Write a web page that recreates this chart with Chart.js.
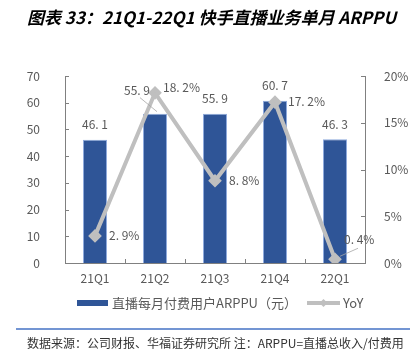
<!DOCTYPE html>
<html>
<head>
<meta charset="utf-8">
<script src="https://cdn.jsdelivr.net/npm/chart.js@4"></script>
<style>
  html, body { margin: 0; padding: 0; background: #fff; }
  #wrap { width: 420px; height: 353px; position: relative; }
</style>
</head>
<body>
<div id="wrap"><canvas id="arppuChart" width="420" height="353"></canvas></div>
<script>
// Chart data
const quarters = ['21Q1', '21Q2', '21Q3', '21Q4', '22Q1'];
const arppu = [46.1, 55.9, 55.9, 60.7, 46.3];
const yoy = [0.029, 0.182, 0.088, 0.172, 0.004];
const yoyLabels = ['2.9%', '18.2%', '8.8%', '17.2%', '0.4%'];
const leftTicks = [0, 10, 20, 30, 40, 50, 60, 70];
const rightTicks = [0, 0.05, 0.10, 0.15, 0.20];

const barColor = '#2F5597';
const lineColor = '#BFBFBF';
const axisColor = '#808080';
const textColor = '#595959';
const cjkFont = '"Noto Sans CJK SC", "Noto Sans", sans-serif';

// Title, labels, legend and footer are drawn by hand
const decorPlugin = {
    id: 'decor',
    afterDraw(chart) {
        const ctx = chart.ctx;
        const area = chart.chartArea;
        const x = chart.scales.x;
        const y = chart.scales.y;
        const y1 = chart.scales.y1;
        ctx.save();

        // title
        ctx.fillStyle = '#000';
        ctx.font = 'italic bold 17px ' + cjkFont;
        ctx.textAlign = 'left';
        ctx.textBaseline = 'middle';
        ctx.fillText('图表 33：21Q1-22Q1 快手直播业务单月 ARPPU', 27, 18);

        // axis tick marks (inside)
        ctx.strokeStyle = axisColor;
        ctx.lineWidth = 1;
        ctx.beginPath();
        leftTicks.forEach(v => {
            const py = Math.round(y.getPixelForValue(v)) + 0.5;
            ctx.moveTo(area.left, py); ctx.lineTo(area.left + 4, py);
        });
        rightTicks.forEach(v => {
            const py = Math.round(y1.getPixelForValue(v)) + 0.5;
            ctx.moveTo(area.right, py); ctx.lineTo(area.right - 4, py);
        });
        for (let i = 0; i <= quarters.length; i++) {
            const px = Math.round(area.left + (area.right - area.left) * i / quarters.length) + 0.5;
            ctx.moveTo(px, area.bottom); ctx.lineTo(px, area.bottom - 4);
        }
        ctx.stroke();

        // category labels
        ctx.fillStyle = textColor;
        ctx.font = '12px ' + cjkFont;
        ctx.textAlign = 'center';
        ctx.textBaseline = 'middle';
        quarters.forEach((q, i) => {
            ctx.fillText(q, x.getPixelForValue(i), area.bottom + 15);
        });

        // bar value labels
        const barOffsets = [[0, -15], [-18, -23], [0, -15], [0, -15], [0, -15]];
        arppu.forEach((v, i) => {
            const px = x.getPixelForValue(i) + barOffsets[i][0];
            const py = y.getPixelForValue(v) + barOffsets[i][1];
            ctx.fillText(v.toFixed(1).replace('.', '. '), px, py);
        });

        // yoy labels
        ctx.textAlign = 'left';
        const lineOffsets = [[14, 0], [8, -5], [14, 0], [13, -1], [9, -20]];
        yoy.forEach((v, i) => {
            const px = x.getPixelForValue(i) + lineOffsets[i][0];
            const py = y1.getPixelForValue(v) + lineOffsets[i][1];
            ctx.fillText(yoyLabels[i].replace('.', '. '), px, py);
        });

        // leader lines
        ctx.strokeStyle = '#A6A6A6';
        ctx.lineWidth = 0.8;
        ctx.beginPath();
        const q2x = x.getPixelForValue(1);
        ctx.moveTo(q2x - 15, y.getPixelForValue(arppu[1]) - 16);
        ctx.lineTo(q2x + 2, y.getPixelForValue(arppu[1]) - 2);
        const q5x = x.getPixelForValue(4);
        ctx.moveTo(q5x + 5, y1.getPixelForValue(yoy[4]) - 3);
        ctx.lineTo(q5x + 23, y1.getPixelForValue(yoy[4]) - 11);
        ctx.stroke();

        // legend
        ctx.fillStyle = barColor;
        ctx.fillRect(77, 300, 31, 6);
        ctx.fillStyle = textColor;
        ctx.font = '13px ' + cjkFont;
        ctx.textBaseline = 'middle';
        ctx.fillText('直播每月付费用户ARPPU（元）', 112, 303);
        ctx.strokeStyle = lineColor;
        ctx.lineWidth = 4;
        ctx.beginPath();
        ctx.moveTo(307, 303); ctx.lineTo(340, 303);
        ctx.stroke();
        ctx.fillStyle = lineColor;
        ctx.beginPath();
        ctx.moveTo(323.5, 299); ctx.lineTo(327.5, 303); ctx.lineTo(323.5, 307); ctx.lineTo(319.5, 303);
        ctx.closePath();
        ctx.fill();
        ctx.fillStyle = textColor;
        ctx.fillText('YoY', 343, 303);

        // footer
        ctx.strokeStyle = '#4472C4';
        ctx.lineWidth = 1.5;
        ctx.beginPath();
        ctx.moveTo(16, 329); ctx.lineTo(410, 329);
        ctx.stroke();
        ctx.fillStyle = '#333';
        ctx.font = '12px ' + cjkFont;
        ctx.fillText('数据来源：公司财报、华福证券研究所 注：ARPPU=直播总收入/付费用', 27, 343);

        ctx.restore();
    }
};

const ctx = document.getElementById('arppuChart').getContext('2d');
const arppuChart = new Chart(ctx, {
    type: 'bar',
    data: {
        labels: quarters,
        datasets: [{
            type: 'line',
            label: 'YoY',
            data: yoy,
            yAxisID: 'y1',
            borderColor: lineColor,
            backgroundColor: lineColor,
            borderWidth: 4,
            tension: 0,
            pointStyle: 'rectRot',
            pointRadius: 4,
            pointBackgroundColor: lineColor,
            pointBorderColor: lineColor,
            order: 0
        }, {
            label: '直播每月付费用户ARPPU（元）',
            data: arppu,
            yAxisID: 'y',
            backgroundColor: barColor,
            borderColor: '#8FAADC',
            borderWidth: 1,
            barPercentage: 0.8,
            categoryPercentage: 0.5,
            order: 1
        }]
    },
    options: {
        responsive: false,
        animation: false,
        devicePixelRatio: 1,
        layout: { padding: { top: 76, bottom: 70, left: 0, right: 0 } },
        scales: {
            x: {
                offset: true,
                grid: { display: false },
                border: { color: axisColor },
                ticks: { display: false },
                afterFit(scale) { scale.height = 20; }
            },
            y: {
                position: 'left',
                min: 0,
                max: 70,
                grid: { display: false },
                border: { color: axisColor },
                ticks: {
                    stepSize: 10,
                    color: textColor,
                    font: { size: 12, family: cjkFont },
                    padding: 17
                },
                afterFit(scale) { scale.width = 65; }
            },
            y1: {
                position: 'right',
                min: 0,
                max: 0.2,
                grid: { display: false },
                border: { color: axisColor },
                ticks: {
                    stepSize: 0.05,
                    color: textColor,
                    font: { size: 12, family: cjkFont },
                    padding: 11,
                    callback: v => Math.round(v * 100) + '%'
                },
                afterFit(scale) { scale.width = 55; }
            }
        },
        plugins: {
            legend: { display: false },
            tooltip: { enabled: false }
        }
    },
    plugins: [decorPlugin]
});
</script>
</body>
</html>
